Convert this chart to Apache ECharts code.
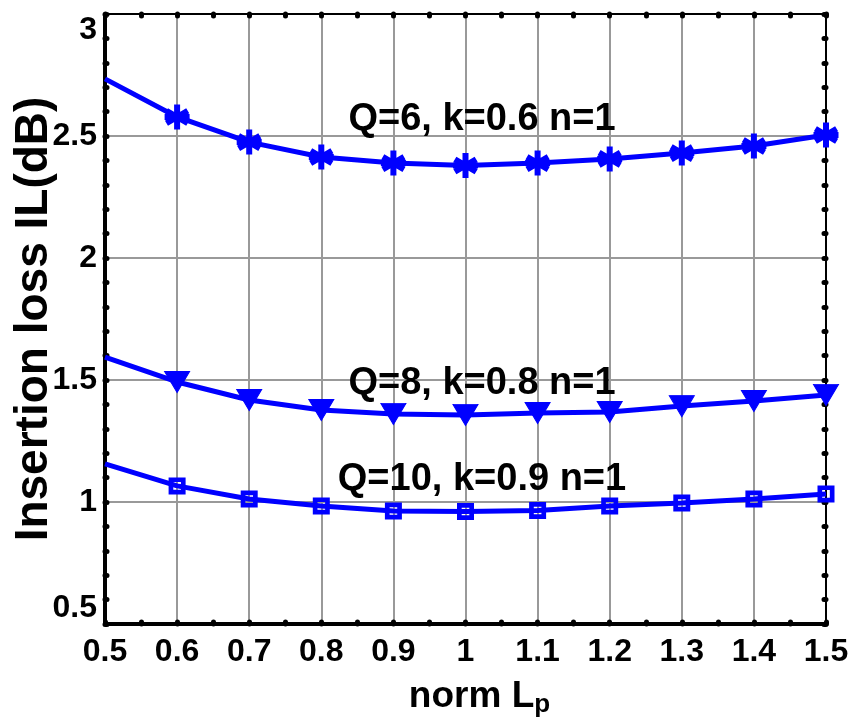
<!DOCTYPE html>
<html>
<head>
<meta charset="utf-8">
<script src="https://cdn.jsdelivr.net/npm/echarts@6/dist/echarts.min.js"></script>
<style>html,body{margin:0;padding:0;background:#fff}#c{width:861px;height:722px}</style>
</head>
<body>
<div id="c"></div>
<script>
const normLp = [0.5, 0.6, 0.7, 0.8, 0.9, 1.0, 1.1, 1.2, 1.3, 1.4, 1.5];
const ilQ6 = [2.734, 2.578, 2.475, 2.414, 2.389, 2.379, 2.389, 2.406, 2.430, 2.459, 2.504];
const ilQ8 = [1.594, 1.492, 1.418, 1.377, 1.361, 1.357, 1.365, 1.369, 1.393, 1.414, 1.439];
const ilQ10 = [1.156, 1.066, 1.012, 0.984, 0.963, 0.961, 0.965, 0.984, 0.996, 1.012, 1.033];
const curveLabels = ['Q=6, k=0.6 n=1', 'Q=8, k=0.8 n=1', 'Q=10, k=0.9 n=1'];
const xTitle = 'norm L';
const xTitleSub = 'p';
const yTitle = 'Insertion loss IL(dB)';

const FONT = '"Liberation Sans", Arial, Helvetica, sans-serif';
const BLUE = '#0000ff';

const starPath = 'path://M10,0 L10,20 M1.5,5 L18.5,15 M1.5,15 L18.5,5 M0,10 L20,10';
const triPath = 'path://M0,0 L20,0 L10,17 Z';
const sqPath = 'path://M0,0 L20,0 L20,20 L0,20 Z M5.5,5.5 L5.5,14.5 L14.5,14.5 L14.5,5.5 Z';

function pts(arr) {
  return arr.map((v, i) => {
    const d = { value: [normLp[i], v] };
    if (i === 0) d.symbol = 'none';
    return d;
  });
}

const chart = echarts.init(document.getElementById('c'), null, { renderer: 'canvas' });

const tickStyle = { color: '#000', width: 5, cap: 'round' };

chart.setOption({
  animation: false,
  backgroundColor: '#ffffff',
  grid: { left: 105, right: 35, top: 14, bottom: 98, containLabel: false, outerBoundsMode: 'none' },
  xAxis: [{
    type: 'value', min: 0.5, max: 1.5, interval: 0.1,
    position: 'bottom',
    axisLine: { show: true, onZero: false, lineStyle: { color: '#000', width: 4 } },
    axisTick: { show: true, inside: true, length: 2, lineStyle: tickStyle },
    minorTick: { show: true, splitNumber: 2, length: 2, lineStyle: tickStyle },
    splitLine: { show: true, lineStyle: { color: '#999999', width: 2 } },
    axisLabel: {
      color: '#000', fontFamily: FONT, fontWeight: 'bold', fontSize: 32, margin: 12,
      formatter: v => String(Math.round(v * 10) / 10)
    },
    name: '{a|' + xTitle + '}{b|' + xTitleSub + '}',
    nameLocation: 'middle', nameGap: 52,
    nameTextStyle: {
      padding: [0, 0, 0, 28],
      rich: {
        a: { fontFamily: FONT, fontWeight: 'bold', fontSize: 37, color: '#000' },
        b: { fontFamily: FONT, fontWeight: 'bold', fontSize: 26, color: '#000', verticalAlign: 'bottom', padding: [16, 0, 0, 0] }
      }
    }
  }, {
    type: 'value', min: 0.5, max: 1.5, interval: 0.1,
    position: 'top',
    axisLine: { show: true, onZero: false, lineStyle: { color: '#000', width: 2 } },
    axisTick: { show: true, inside: true, length: 2, lineStyle: tickStyle },
    minorTick: { show: true, splitNumber: 2, length: 2, lineStyle: tickStyle },
    splitLine: { show: false },
    axisLabel: { show: false }
  }],
  yAxis: [{
    type: 'value', min: 0.5, max: 3, interval: 0.5,
    position: 'left',
    axisLine: { show: true, onZero: false, lineStyle: { color: '#000', width: 4 } },
    axisTick: { show: true, inside: true, length: 2, lineStyle: tickStyle },
    minorTick: { show: true, splitNumber: 5, length: 2, lineStyle: tickStyle },
    splitLine: { show: true, lineStyle: { color: '#999999', width: 2 } },
    axisLabel: {
      color: '#000', fontFamily: FONT, fontWeight: 'bold', fontSize: 32, margin: 8,
      verticalAlignMinLabel: 'bottom', verticalAlignMaxLabel: 'top',
      formatter: v => String(Math.round(v * 10) / 10)
    },
    name: yTitle,
    nameLocation: 'middle', nameGap: 48, nameRotate: 90, nameMoveOverlap: false,
    nameTextStyle: { fontFamily: FONT, fontWeight: 'bold', fontSize: 46, color: '#000' }
  }, {
    type: 'value', min: 0.5, max: 3, interval: 0.5,
    position: 'right',
    axisLine: { show: true, onZero: false, lineStyle: { color: '#000', width: 2 } },
    axisTick: { show: true, inside: true, length: 2, lineStyle: tickStyle },
    minorTick: { show: true, splitNumber: 5, length: 2, lineStyle: tickStyle },
    splitLine: { show: false },
    axisLabel: { show: false }
  }],
  series: [{
    type: 'line', data: pts(ilQ6), symbol: starPath, symbolSize: [25, 25], showAllSymbol: true,
    lineStyle: { color: BLUE, width: 5 },
    itemStyle: { color: BLUE, borderColor: BLUE, borderWidth: 6 },
    clip: false, z: 5
  }, {
    type: 'line', data: pts(ilQ8), symbol: triPath, symbolSize: [25, 21], showAllSymbol: true,
    lineStyle: { color: BLUE, width: 5 },
    itemStyle: { color: BLUE, borderColor: BLUE, borderWidth: 1 },
    clip: false, z: 5
  }, {
    type: 'line', data: pts(ilQ10), symbol: sqPath, symbolSize: 17, showAllSymbol: true,
    lineStyle: { color: BLUE, width: 5 },
    itemStyle: { color: BLUE, borderWidth: 0 },
    clip: false, z: 5
  }],
  graphic: [
    { type: 'text', x: 482, y: 120, z: 10, style: { text: curveLabels[0], font: 'bold 38px ' + FONT, fill: '#000', align: 'center', verticalAlign: 'middle' } },
    { type: 'text', x: 482, y: 384, z: 10, style: { text: curveLabels[1], font: 'bold 38px ' + FONT, fill: '#000', align: 'center', verticalAlign: 'middle' } },
    { type: 'text', x: 482, y: 480, z: 10, style: { text: curveLabels[2], font: 'bold 38px ' + FONT, fill: '#000', align: 'center', verticalAlign: 'middle' } }
  ]
});
</script>
</body>
</html>
